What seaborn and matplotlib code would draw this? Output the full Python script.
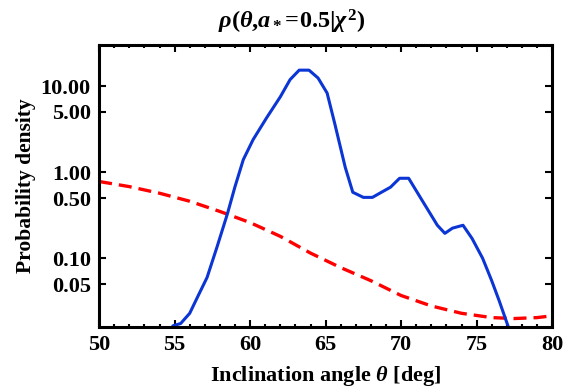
import numpy as np
import matplotlib
matplotlib.use("Agg")
import matplotlib.pyplot as plt
from matplotlib.ticker import FixedLocator, MultipleLocator, NullLocator, FuncFormatter
import seaborn as sns
import pandas as pd

# posterior for a* = 0.5 (blue), prior (red dashed)
theta_post = [54.0, 54.9, 55.4, 56.0, 56.5, 57.15, 57.8, 58.5, 59.0, 59.55, 60.2,
              61.1, 62.0, 62.65, 63.25, 63.9, 64.5, 65.1, 65.6, 66.3,
              66.8, 67.5, 68.1, 68.7, 69.3, 69.9, 70.5, 71.3, 72.4, 72.9,
              73.4, 74.1, 74.7, 75.4, 76.0, 76.5, 77.1, 77.5]
rho_post = [0.010, 0.0165, 0.0175, 0.023, 0.035, 0.060, 0.134, 0.33, 0.68, 1.40, 2.39,
            4.3, 7.5, 11.9, 15.3, 15.3, 12.4, 8.3, 3.7, 1.14,
            0.585, 0.51, 0.51, 0.585, 0.67, 0.85, 0.85, 0.50, 0.242, 0.195,
            0.224, 0.242, 0.17, 0.10, 0.055, 0.032, 0.016, 0.010]

theta_prior = [50, 52, 54, 56, 58, 60, 62, 64, 66, 68, 70, 72, 74, 76, 77.5, 79, 80]
rho_prior = [0.78, 0.68, 0.57, 0.46, 0.35, 0.26, 0.18, 0.115, 0.078, 0.055,
             0.037, 0.028, 0.023, 0.0205, 0.020, 0.0205, 0.0215]

ytick_vals = [0.05, 0.1, 0.5, 1, 5, 10]

sns.set_style("ticks")
plt.rcParams["font.family"] = ["Liberation Serif", "DejaVu Serif"]
plt.rcParams["font.weight"] = "bold"
plt.rcParams["mathtext.fontset"] = "custom"
plt.rcParams["mathtext.rm"] = "Liberation Serif:bold"
plt.rcParams["mathtext.it"] = "Liberation Serif:bold:italic"
plt.rcParams["mathtext.bf"] = "Liberation Serif:bold"
for k in ["axes.edgecolor", "xtick.color", "ytick.color", "text.color", "axes.labelcolor"]:
    plt.rcParams[k] = "black"

fig = plt.figure(figsize=(5.83, 3.91), dpi=100)
ax = fig.add_axes([0.170, 0.164, 0.777, 0.721])

df_post = pd.DataFrame({"theta": theta_post, "rho": rho_post})
df_prior = pd.DataFrame({"theta": theta_prior, "rho": rho_prior})

sns.lineplot(data=df_prior, x="theta", y="rho", ax=ax, color="#ff0000", lw=2.4,
             linestyle=(0, (3.9, 2.1)), sort=False)
sns.lineplot(data=df_post, x="theta", y="rho", ax=ax, color="#0b35d4", lw=2.2, sort=False)

ax.set_yscale("log")
ax.set_xlim(50, 80)
ax.set_ylim(0.016, 30)
ax.xaxis.set_major_locator(MultipleLocator(5))
ax.xaxis.set_minor_locator(MultipleLocator(1))
ax.yaxis.set_major_locator(FixedLocator(ytick_vals))
ax.yaxis.set_minor_locator(NullLocator())
ax.yaxis.set_major_formatter(FuncFormatter(lambda v, p: "%.2f" % v))

ax.tick_params(which="both", direction="in", top=True, right=True, width=1.5, color="black")
ax.tick_params(which="major", length=5, labelsize=16, pad=6)
ax.tick_params(which="minor", length=2.5)
for lab in ax.get_xticklabels() + ax.get_yticklabels():
    lab.set_fontweight("bold")
for s in ax.spines.values():
    s.set_linewidth(2.2)
    s.set_color("black")

ax.set_xlabel(r"Inclination angle $\theta$ [deg]", fontsize=16, fontweight="bold", labelpad=6)
ax.set_ylabel("Probability density", fontsize=15.5, fontweight="bold", labelpad=3)
fig.text(0.5, 0.943, r"$\rho(\theta{,}a_*\!=\!0.5|\chi^2)$", ha="center", va="center", fontsize=17.5)

fig.savefig("out.png", dpi=100)
